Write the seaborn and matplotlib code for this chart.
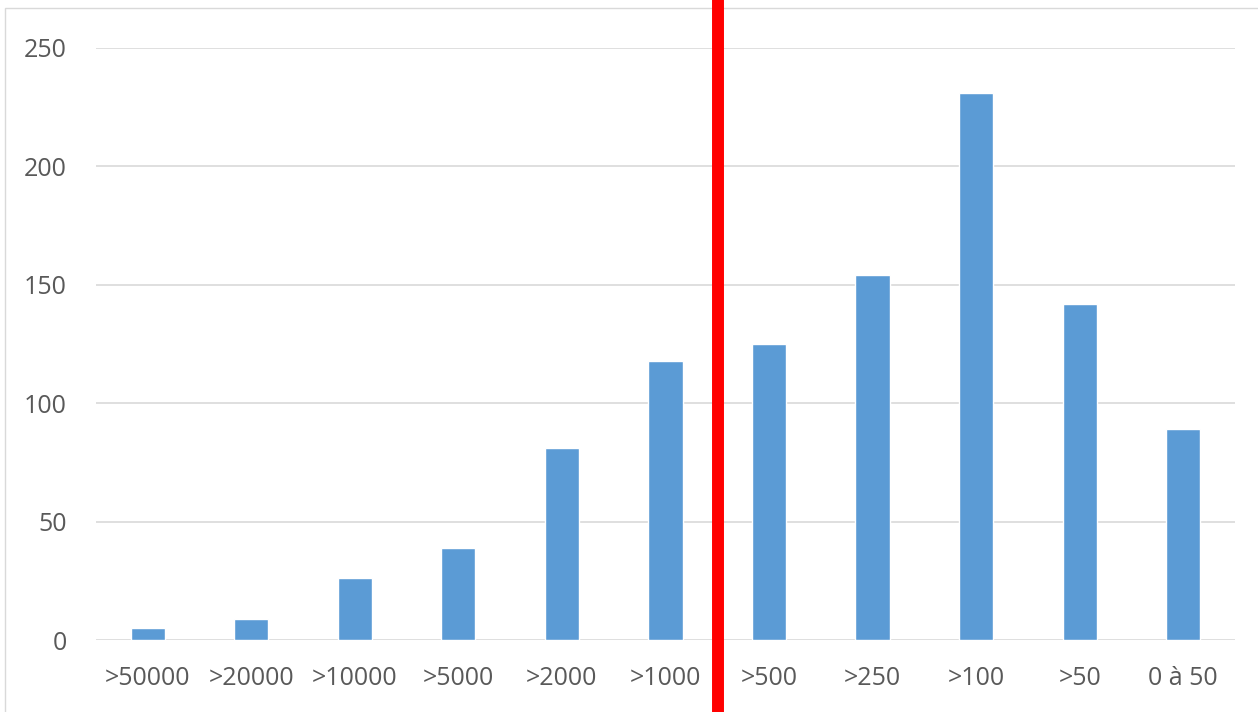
import numpy as np
import pandas as pd
import seaborn as sb
import matplotlib.pyplot as plt
from matplotlib.patches import Rectangle
from matplotlib.lines import Line2D

categories = [">50000", ">20000", ">10000", ">5000", ">2000", ">1000",
              ">500", ">250", ">100", ">50", "0 à 50"]
values = [5, 9, 26, 39, 81, 118, 125, 154, 231, 142, 89]
yticks = [0, 50, 100, 150, 200, 250]

df = pd.DataFrame({"cat": categories, "value": values})

sb.set_style("white")
plt.rcParams['font.family'] = ['Open Sans', 'DejaVu Sans']

fig = plt.figure(figsize=(12.58, 7.12), dpi=100)
ax = fig.add_axes([0.0763, 0.1011, 0.9054, 0.8315])

sb.barplot(data=df, x="cat", y="value", color="#5b9bd5", width=0.33,
           saturation=1, ax=ax, zorder=3)

ax.set_ylim(0, 250)
ax.set_yticks(yticks)
ax.set_xlim(-0.5, len(categories) - 0.5)
ax.yaxis.grid(True, color="#d9d9d9", linewidth=1.2, zorder=0)
ax.set_axisbelow(True)
for s in ax.spines.values():
    s.set_visible(False)
ax.tick_params(axis="both", length=0, labelsize=18, labelcolor="#595959")
ax.tick_params(axis="y", pad=21)
ax.tick_params(axis="x", pad=19)
ax.set_xlabel("")
ax.set_ylabel("")

# chart border (top/left visible, rest runs off the picture)
fig.add_artist(Rectangle((0.004, -0.01), 1.0, 0.9987, transform=fig.transFigure,
                         fill=False, edgecolor="#d9d9d9", linewidth=1))

# red separator between >1000 and >500
sep = 5.51
xf = fig.transFigure.inverted().transform(ax.transData.transform((sep, 0)))[0]
fig.add_artist(Line2D([xf, xf], [0, 1], transform=fig.transFigure,
                      color="#ff0000", linewidth=8.6))

plt.savefig("out.png", dpi=100)
